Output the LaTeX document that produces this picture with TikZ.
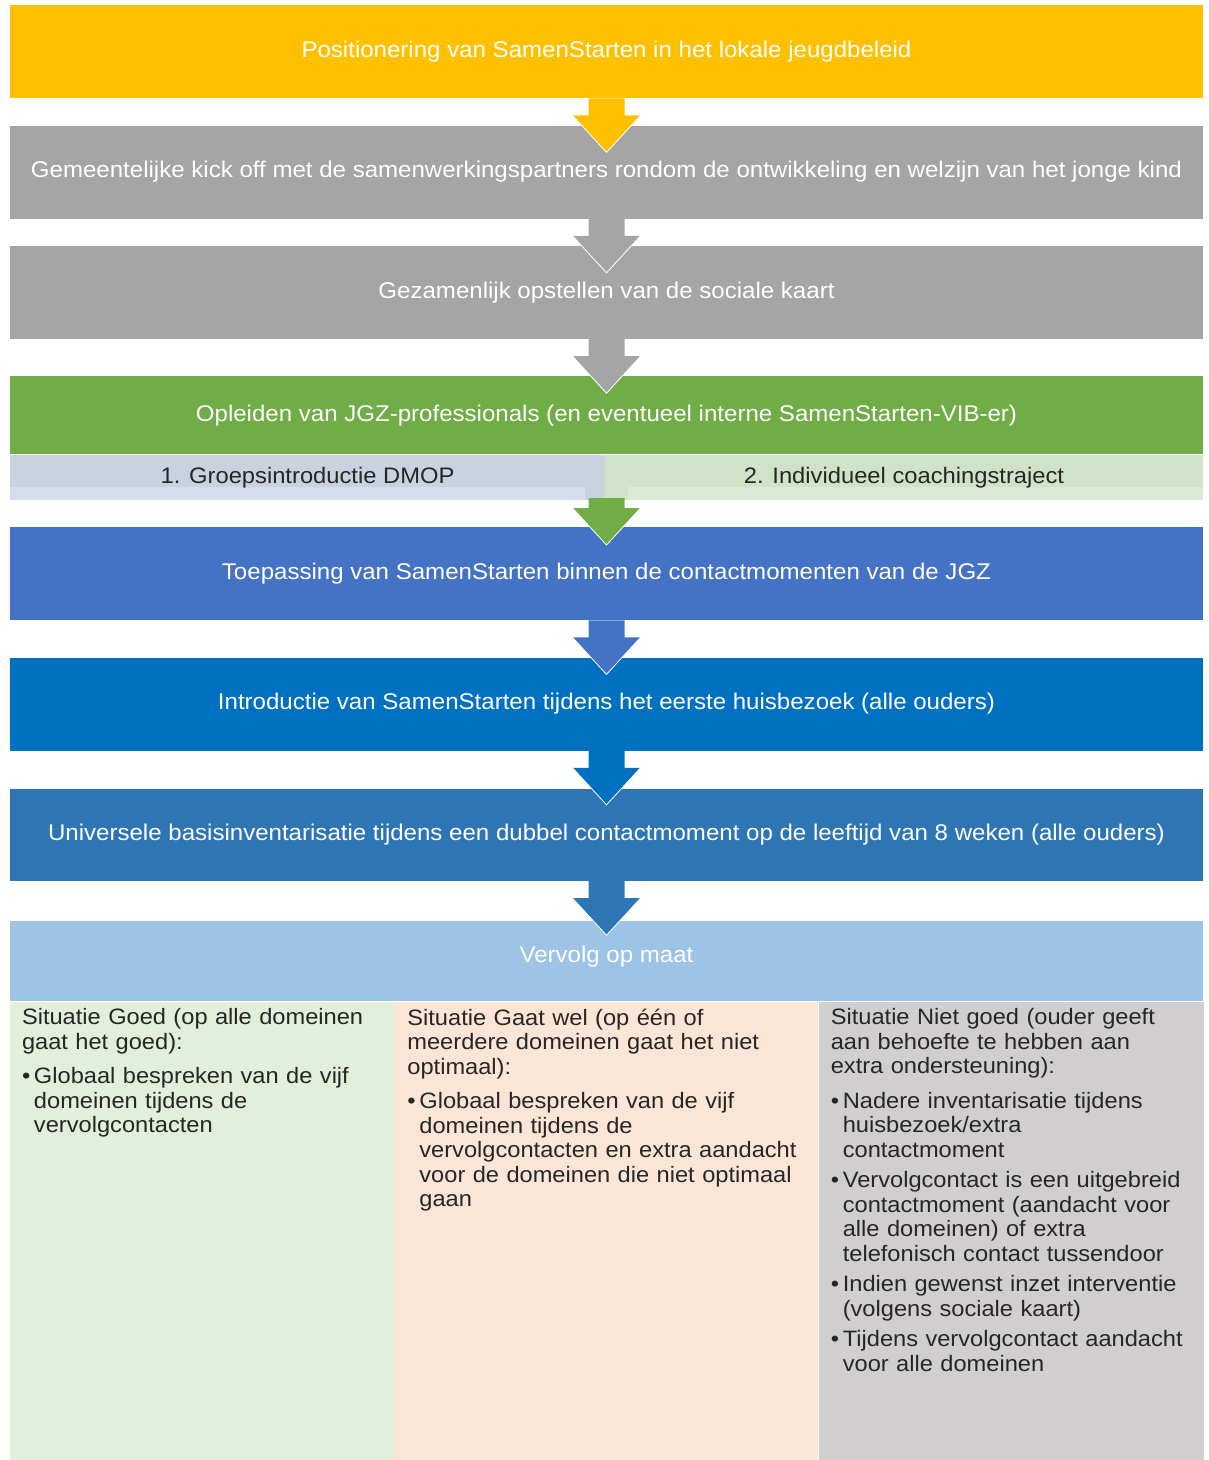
\documentclass[tikz,border=0pt]{standalone}
\usepackage{fontspec}
\setmainfont{Liberation Sans}[FakeStretch=1.06]
\usetikzlibrary{positioning, calc}

\definecolor{jgzyellow}{HTML}{FFC000}
\definecolor{jgzgray}{HTML}{A5A5A5}
\definecolor{jgzgreen}{HTML}{70AD47}
\definecolor{subleft}{HTML}{C9D2DF}
\definecolor{subleftlight}{HTML}{D5DCEC}
\definecolor{subright}{HTML}{D0E2C7}
\definecolor{subrightlight}{HTML}{DBE9D5}
\definecolor{jgzblueA}{HTML}{4472C4}
\definecolor{jgzblueB}{HTML}{0070C0}
\definecolor{jgzblueC}{HTML}{2E75B6}
\definecolor{jgzlight}{HTML}{9DC3E6}
\definecolor{colgoed}{HTML}{E2EFDA}
\definecolor{colwel}{HTML}{FBE5D6}
\definecolor{colniet}{HTML}{D0CECE}
\definecolor{inkdark}{HTML}{262626}

\newcommand\bandfont{\fontsize{22.7}{25}\selectfont}
\newcommand\subfont{\fontsize{22.4}{25}\selectfont}
\newcommand\colfont{\fontsize{22.3}{24.5}\selectfont}
\newcommand\bitem[2][6pt]{\par\vspace{#1}\hangindent=12pt\hangafter=1\noindent\makebox[12pt][l]{\textbullet}#2\par}
% block arrow hanging under a band
\newcommand\flowarrow[3]{%
  \path (#1) coordinate (t);
  \fill[#2] ($(t)+(-18,0)$) -- ($(t)+(-18,#3)$) -- ($(t)+(-34,#3)$) -- ($(t)+(0,#3+37)$)
    -- ($(t)+(34,#3)$) -- ($(t)+(18,#3)$) -- ($(t)+(18,0)$) -- cycle;
  \draw[white, line width=0.8pt] ($(t)+(-34,#3)$) -- ($(t)+(0,#3+37)$) -- ($(t)+(34,#3)$);
}

\tikzset{
  band/.style={fill=#1, minimum width=1193pt, minimum height=93pt, inner sep=0pt, text=white, font=\bandfont},
  sub/.style={fill=#1, minimum height=45pt, inner sep=0pt, text=inkdark, font=\subfont},
  column/.style={fill=#1, minimum height=460pt, inner sep=0pt, anchor=north west},
  coltext/.style={anchor=north west, inner sep=0pt, text width=#1, align=left, text=inkdark, font=\colfont}
}

\begin{document}
\begin{tikzpicture}[x=1pt, y=-1pt]
  \useasboundingbox (0,0) rectangle (1209,1460);

  \node[band=jgzyellow, anchor=north] (pos) at (606.5,5) {Positionering van SamenStarten in het lokale jeugdbeleid};
  \node[band=jgzgray, below=27pt of pos] (kick) {Gemeentelijke kick off met de samenwerkingspartners rondom de ontwikkeling en welzijn van het jonge kind};
  \node[band=jgzgray, below=27pt of kick] (kaart) {Gezamenlijk opstellen van de sociale kaart};
  \node[band=jgzgreen, minimum height=78pt, below=37pt of kaart] (opl) {Opleiden van JGZ-professionals (en eventueel interne SamenStarten-VIB-er)};
  \node[sub=subleft, minimum width=595pt, anchor=north west] (groep) at (opl.south west) {};
  \node[sub=subright, minimum width=598pt, anchor=north east] (coach) at (opl.south east) {};
  \fill[subleftlight] ($(groep.south west)+(0,-13)$) rectangle ($(groep.south east)+(-20,0)$);
  \fill[subrightlight] ($(coach.south west)+(23,-13)$) rectangle (coach.south east);
  \node[text=inkdark, font=\subfont] at (groep.center) {1. Groepsintroductie DMOP};
  \node[text=inkdark, font=\subfont] at (coach.center) {2. Individueel coachingstraject};
  \coordinate (subfoot) at (606.5,498);

  \node[band=jgzblueA, anchor=north] (toep) at (606.5,527) {Toepassing van SamenStarten binnen de contactmomenten van de JGZ};
  \node[band=jgzblueB, below=37pt of toep] (intro) {Introductie van SamenStarten tijdens het eerste huisbezoek (alle ouders)};
  \node[band=jgzblueC, minimum height=92pt, below=38pt of intro] (basis) {Universele basisinventarisatie tijdens een dubbel contactmoment op de leeftijd van 8 weken (alle ouders)};
  \node[band=jgzlight, minimum height=80pt, below=40pt of basis] (maat) {};
  \node[text=white, font=\bandfont, yshift=5pt] at (maat.center) {Vervolg op maat};

  \node[column=colgoed, minimum width=385pt] (goed) at (maat.south west) {};
  \node[column=colwel, minimum width=423pt] (wel) at (goed.north east) {};
  \node[column=colniet, minimum width=385pt] (niet) at (wel.north east) {};

  \node[coltext=370pt] (goedtxt) at ($(goed.north west)+(12,7)$) {Situatie Goed (op alle domeinen\\ gaat het goed):
    \bitem[10pt]{Globaal bespreken van de vijf\newline domeinen tijdens de\newline vervolgcontacten}};
  \node[coltext=408pt] (weltxt) at ($(wel.north west)+(12,7)$) {Situatie Gaat wel (op één of\\ meerdere domeinen gaat het niet\\ optimaal):
    \bitem[10pt]{Globaal bespreken van de vijf\newline domeinen tijdens de\newline vervolgcontacten en extra aandacht\newline voor de domeinen die niet optimaal\newline gaan}};
  \node[coltext=370pt] (niettxt) at ($(niet.north west)+(12,7)$) {Situatie Niet goed (ouder geeft\\ aan behoefte te hebben aan\\ extra ondersteuning):
    \bitem[10pt]{Nadere inventarisatie tijdens\newline huisbezoek/extra\newline contactmoment}
    \bitem{Vervolgcontact is een uitgebreid\newline contactmoment (aandacht voor\newline alle domeinen) of extra\newline telefonisch contact tussendoor}
    \bitem{Indien gewenst inzet interventie\newline (volgens sociale kaart)}
    \bitem{Tijdens vervolgcontact aandacht\newline voor alle domeinen}};

  \flowarrow{pos.south}{jgzyellow}{17}
  \flowarrow{kick.south}{jgzgray}{17}
  \flowarrow{kaart.south}{jgzgray}{17}
  \flowarrow{subfoot}{jgzgreen}{10}
  \flowarrow{toep.south}{jgzblueA}{17}
  \flowarrow{intro.south}{jgzblueB}{17}
  \flowarrow{basis.south}{jgzblueC}{17}
\end{tikzpicture}
\end{document}
